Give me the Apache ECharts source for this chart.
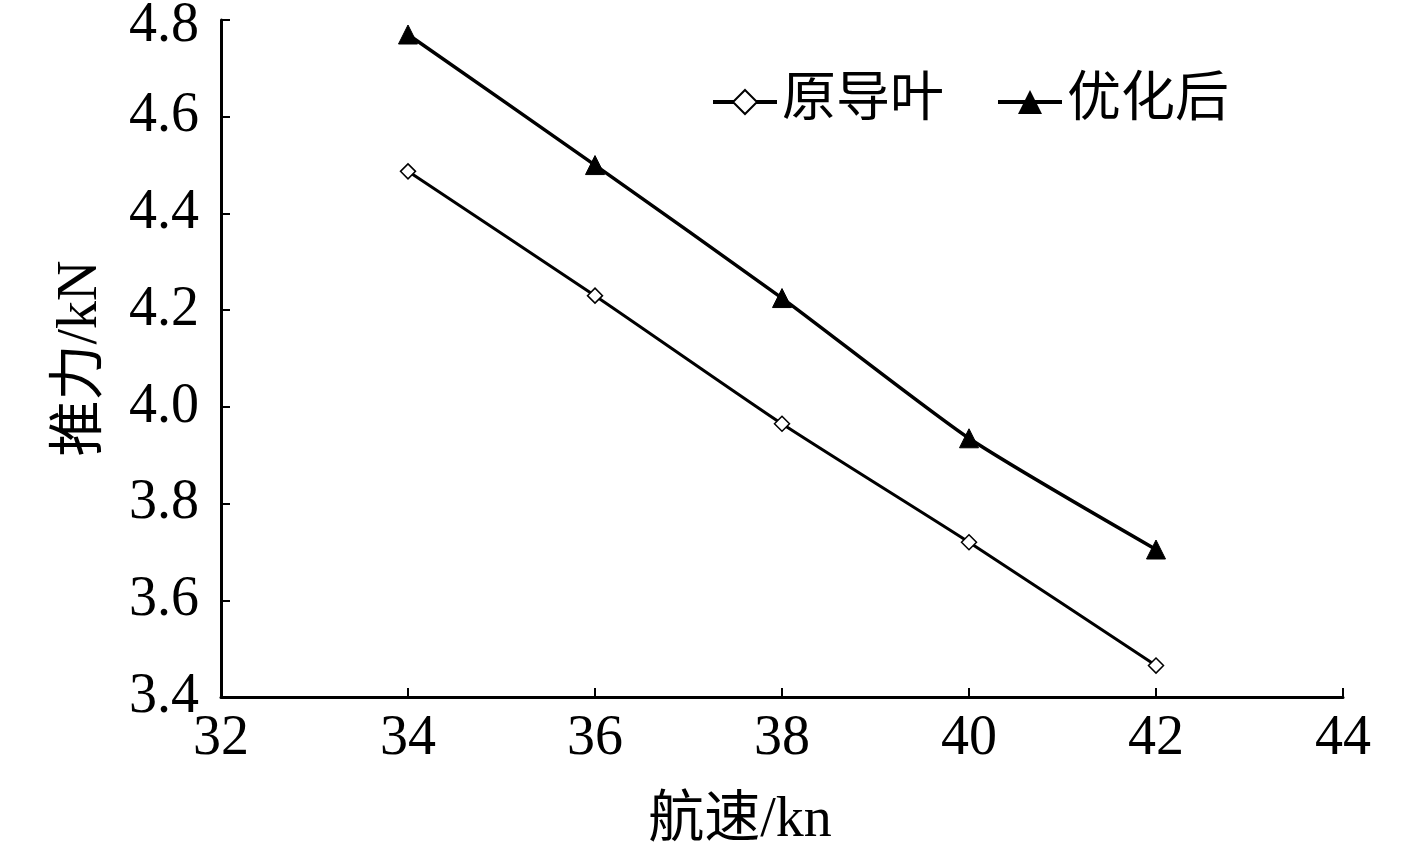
<!DOCTYPE html>
<html>
<head>
<meta charset="utf-8">
<script src="https://cdn.jsdelivr.net/npm/echarts@6/dist/echarts.min.js"></script>
<style>
  html, body { margin: 0; padding: 0; background: #fff; }
  #chart { width: 1417px; height: 850px; }
</style>
</head>
<body>
<div id="chart"></div>
<script>
var speeds = [34, 36, 38, 40, 42];
var seriesNames = ['原导叶', '优化后'];
var thrustOriginal = [4.487, 4.23, 3.965, 3.72, 3.465];
var thrustOptimized = [4.77, 4.50, 4.225, 3.935, 3.705];

(function() {
  var font = '"Liberation Serif", "Times New Roman", "Noto Sans CJK SC", serif';
  var ink = '#000';

  function pairs(xs, ys) {
    return xs.map(function(x, i) { return [x, ys[i]]; });
  }

  var chart = echarts.init(document.getElementById('chart'), null, { renderer: 'canvas' });
  chart.setOption({
    animation: false,
    backgroundColor: '#fff',
    grid: { left: 221, right: 74, top: 20, bottom: 153, outerBoundsMode: 'none', containLabel: false },
    legend: {
      top: 70,
      left: 706,
      itemGap: 52,
      itemWidth: 64,
      itemHeight: 30,
      lineStyle: { width: 4 },
      textStyle: { fontFamily: font, fontSize: 54, color: ink },
      data: seriesNames
    },
    xAxis: {
      type: 'value',
      min: 32, max: 44, interval: 2,
      name: '航速/kn',
      nameLocation: 'middle',
      nameGap: 96,
      nameTextStyle: { fontFamily: font, fontSize: 56, color: ink, padding: [0, 84, 0, 0] },
      axisLine: { lineStyle: { color: ink, width: 3 } },
      axisTick: { inside: true, length: 9, lineStyle: { color: ink, width: 2 } },
      axisLabel: { fontFamily: font, fontSize: 56, color: ink, margin: 14 },
      splitLine: { show: false }
    },
    yAxis: {
      type: 'value',
      min: 3.4, max: 4.8, interval: 0.2,
      name: '推力/kN',
      nameLocation: 'middle',
      nameGap: 112,
      nameTextStyle: { fontFamily: font, fontSize: 56, color: ink },
      axisLine: { show: true, lineStyle: { color: ink, width: 3 } },
      axisTick: { show: true, inside: true, length: 9, lineStyle: { color: ink, width: 2 } },
      axisLabel: {
        fontFamily: font, fontSize: 56, color: ink, margin: 22,
        formatter: function(v) {
          var s = v.toFixed(1);
          return v >= 4.79 ? '{top|' + s + '}' : s;
        },
        rich: { top: { fontFamily: font, fontSize: 56, color: ink, padding: [12, 0, 0, 0] } }
      },
      splitLine: { show: false }
    },
    series: [
      {
        name: seriesNames[0],
        type: 'line',
        data: pairs(speeds, thrustOriginal),
        smooth: 0.2,
        symbol: 'diamond',
        symbolSize: 15,
        lineStyle: { color: ink, width: 3 },
        itemStyle: { color: '#fff', borderColor: ink, borderWidth: 1.5 }
      },
      {
        name: seriesNames[1],
        type: 'line',
        data: pairs(speeds, thrustOptimized),
        smooth: 0.2,
        symbol: 'triangle',
        symbolSize: 19,
        lineStyle: { color: ink, width: 3.5 },
        itemStyle: { color: ink, borderColor: ink }
      }
    ]
  });
})();
</script>
</body>
</html>
